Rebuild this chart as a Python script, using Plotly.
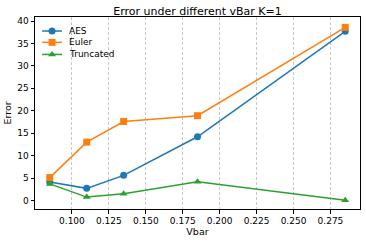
import plotly.graph_objects as go

vbar = [0.085, 0.11, 0.135, 0.185, 0.285]
aes = [4.1, 2.7, 5.6, 14.2, 37.7]
euler = [5.1, 13.0, 17.6, 18.9, 38.6]
truncated = [3.7, 0.75, 1.5, 4.2, 0.05]
series_names = ["AES", "Euler", "Truncated"]
xticks = [0.100, 0.125, 0.150, 0.175, 0.200, 0.225, 0.250, 0.275]
yticks = [0, 5, 10, 15, 20, 25, 30, 35, 40]

font = "DejaVu Sans"
colors = ["#1f77b4", "#ff7f0e", "#2ca02c"]
symbols = ["circle", "square", "triangle-up"]
fig = go.Figure()
for name, ys, color, sym in zip(series_names, [aes, euler, truncated], colors, symbols):
    fig.add_trace(go.Scatter(x=vbar, y=ys, name=name, mode="lines+markers",
                             line=dict(color=color, width=1.5), showlegend=False,
                             marker=dict(symbol=sym, size=7, color=color)))

# compact legend drawn on an overlay axis (matplotlib-like spacing)
leg_y = [0.927, 0.868, 0.805]
for name, color, sym, ly in zip(series_names, colors, symbols, leg_y):
    fig.add_trace(go.Scatter(x=[0.022, 0.083], y=[ly, ly], xaxis="x2", yaxis="y2",
                             mode="lines", line=dict(color=color, width=1.5),
                             showlegend=False, hoverinfo="skip"))
    fig.add_trace(go.Scatter(x=[0.0525], y=[ly], xaxis="x2", yaxis="y2",
                             mode="markers", marker=dict(symbol=sym, size=7, color=color),
                             showlegend=False, hoverinfo="skip"))
    fig.add_annotation(x=0.097, y=ly, xref="x2", yref="y2", text=name, showarrow=False,
                       xanchor="left", yanchor="middle", font=dict(size=9, family=font))

fig.update_layout(
    width=366, height=242,
    margin=dict(l=35, r=6, t=17, b=33, autoexpand=False),
    paper_bgcolor="white", plot_bgcolor="white",
    font=dict(family=font, size=9, color="black"),
    title=dict(text="Error under different vBar K=1", x=0.5, xref="paper",
               y=1 - 11 / 242, yref="container", yanchor="middle", font=dict(size=11, family=font)),
    showlegend=False,
    xaxis=dict(range=[0.075, 0.295], tickvals=xticks, tickformat=".3f", automargin=False,
               showgrid=True, gridcolor="#c8c8c8", griddash="3px,2px", gridwidth=0.8,
               showline=True, linecolor="black", linewidth=1, mirror=True,
               ticks="outside", ticklen=3.5, tickcolor="black", zeroline=False,
               title=dict(text="Vbar", font=dict(size=9.5), standoff=3)),
    yaxis=dict(range=[-1.9, 40.9], tickvals=yticks, showgrid=False, automargin=False,
               showline=True, linecolor="black", linewidth=1, mirror=True,
               ticks="outside", ticklen=3.5, tickcolor="black", zeroline=False,
               title=dict(text="Error", font=dict(size=9.5), standoff=3)),
    xaxis2=dict(range=[0, 1], overlaying="x", visible=False, fixedrange=True),
    yaxis2=dict(range=[0, 1], overlaying="y", visible=False, fixedrange=True),
)
fig.write_html("out.html", post_script="document.body.style.margin='0';",
               config={"displayModeBar": False})
